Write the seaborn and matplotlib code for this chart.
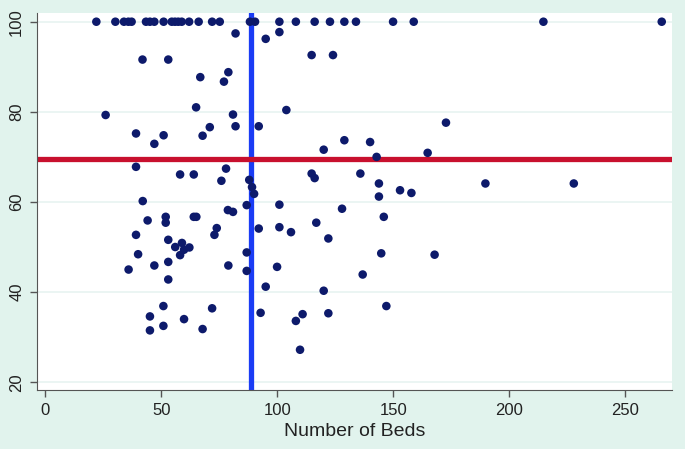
import numpy as np
import pandas as pd
import seaborn as sns
import matplotlib
matplotlib.use("Agg")
import matplotlib.pyplot as plt

# beds vs score
top_beds = [22.0, 30.2, 33.9, 35.8, 37.2, 43.4, 45.1, 47.0, 51.0, 54.5, 55.9, 57.3,
            58.8, 62.0, 66.1, 71.9, 75.2, 88.2, 90.4, 100.9, 108.0, 116.1, 122.7,
            128.9, 133.9, 149.9, 158.8, 214.7, 265.7]
top_score = [100] * len(top_beds)

beds = [82.0, 100.9, 95.0, 41.9, 53.0, 114.8, 124.0, 66.8, 78.9, 77.0, 65.0, 26.0,
        80.9, 103.9, 82.0, 70.9, 92.0, 172.7, 39.1, 51.0, 67.8, 47.0, 128.9, 140.0,
        120.0, 142.8, 164.8,
        39.1, 58.1, 64.0, 77.9, 75.9, 114.8, 116.1, 135.8, 143.8, 143.8, 152.9, 157.8,
        87.9, 89.1, 90.0, 189.7, 227.8,
        42.0, 86.8, 100.9, 127.9, 78.7, 80.9, 145.9, 44.1, 51.9, 51.9, 64.0, 65.1,
        92.0, 100.9, 105.9, 116.8, 73.9, 72.9, 39.1, 122.0, 53.0, 58.9, 56.0, 59.8,
        62.1, 58.1, 40.0, 86.8, 144.8, 167.8, 53.0, 47.0, 35.9, 78.9, 86.8, 99.9,
        136.8, 53.0, 95.0, 120.0,
        50.9, 71.9, 147.0, 45.1, 59.8, 92.8, 110.9, 122.0, 108.0, 50.9, 45.1, 67.8, 109.8]
score = [97.4, 97.7, 96.2, 91.6, 91.6, 92.6, 92.6, 87.7, 88.8, 86.7, 81.0, 79.3,
         79.4, 80.4, 76.8, 76.6, 76.8, 77.6, 75.2, 74.8, 74.7, 72.9, 73.7, 73.3,
         71.6, 70.0, 70.9,
         67.8, 66.1, 66.1, 67.4, 64.7, 66.3, 65.3, 66.3, 64.1, 61.2, 62.6, 62.0,
         64.9, 63.3, 61.8, 64.1, 64.1,
         60.2, 59.3, 59.4, 58.5, 58.2, 57.8, 56.7, 55.9, 56.7, 55.4, 56.7, 56.7,
         54.1, 54.4, 53.3, 55.4, 54.2, 52.7, 52.7, 51.9, 51.6, 50.9, 50.0, 49.4,
         49.9, 48.2, 48.4, 48.8, 48.6, 48.3, 46.7, 45.9, 45.0, 45.9, 44.7, 45.6,
         43.9, 42.8, 41.2, 40.3,
         36.9, 36.4, 36.9, 34.6, 34.0, 35.4, 35.1, 35.3, 33.6, 32.5, 31.5, 31.8, 27.2]

median_beds = 88.6
mean_score = 69.6

df = pd.DataFrame({'beds': top_beds + beds, 'score': top_score + score})

sns.set_style('white')
plt.rcParams['font.family'] = ['Liberation Sans', 'DejaVu Sans']

bg = '#e1f3ed'
fig = plt.figure(figsize=(6.85, 4.49), dpi=100, facecolor=bg)
ax = fig.add_axes([0.0536, 0.1307, 0.927, 0.841])
ax.set_facecolor('white')

for yv in [20, 40, 60, 80, 100]:
    ax.axhline(yv, color='#e8f3f1', lw=1.2, zorder=0)

sns.scatterplot(data=df, x='beds', y='score', ax=ax, color='#0d1a6b',
                s=38, edgecolor='none', zorder=3)
ax.axvline(median_beds, color='#1a3cf5', lw=3.8, zorder=2)
ax.axhline(mean_score, color='#c8102e', lw=3.8, zorder=2)

ax.set_xlim(-3.7, 270)
ax.set_ylim(18.2, 102)
ax.set_xticks([0, 50, 100, 150, 200, 250])
ax.set_yticks([20, 40, 60, 80, 100])
ax.set_xlabel('Number of Beds', fontsize=14, color='#222222', labelpad=4)
ax.set_ylabel('')
ax.tick_params(axis='both', direction='out', length=5, width=1, color='#555555',
               labelsize=12, labelcolor='#222222', pad=4, left=True, bottom=True)
for lab in ax.get_yticklabels():
    lab.set_rotation(90)
    lab.set_va('center')
sns.despine(ax=ax)
ax.spines['left'].set_color('#555555')
ax.spines['bottom'].set_color('#555555')

fig.savefig('out.png', dpi=100, facecolor=bg)
